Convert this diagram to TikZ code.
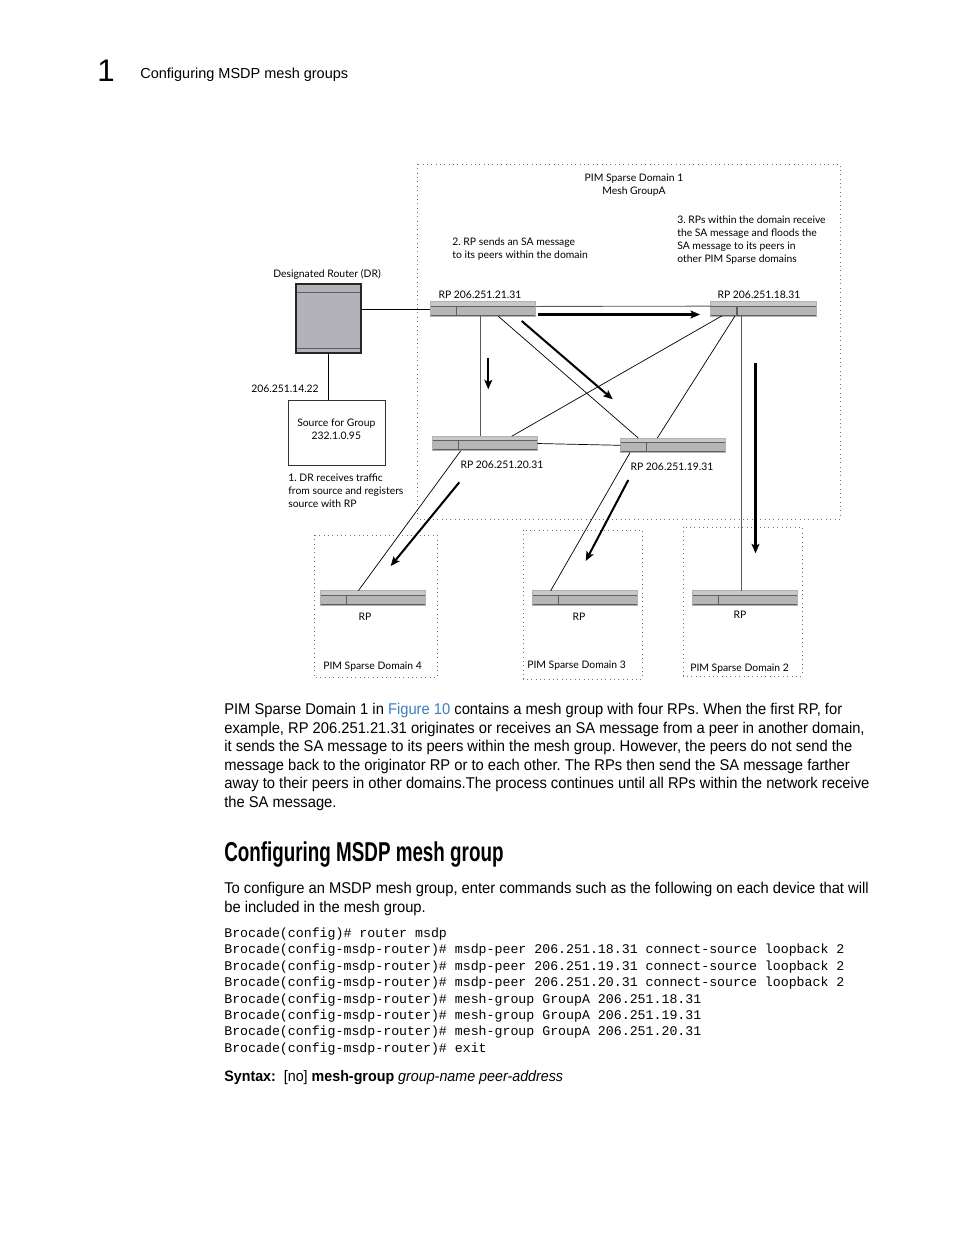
\documentclass[tikz,border=0pt]{standalone}
\usepackage{fontspec}
\setmainfont{Liberation Sans}[FakeStretch=0.945]
\newfontfamily\dgfont{Lato}
\newfontfamily\hdrfont{Liberation Sans}
\newfontfamily\headfont{Liberation Sans}[FakeStretch=0.69]
\setmonofont{Liberation Mono}
\usetikzlibrary{arrows.meta,calc}
\definecolor{linkblue}{RGB}{60,125,195}
\definecolor{barfill}{RGB}{182,182,184}
\definecolor{bartop}{RGB}{200,200,202}
\definecolor{barline}{RGB}{95,95,98}
\definecolor{drfill}{RGB}{178,178,184}
\newdimen\pxu \pxu=0.6415pt
\frenchspacing
\tikzset{
  rpbar/.style={draw=black!30, line width=0.4pt, fill=barfill, minimum width=67.4pt, minimum height=9.3pt, inner sep=0pt, outer sep=0pt,
    path picture={
      \fill[bartop] (path picture bounding box.north west) rectangle ([yshift=-3pt]path picture bounding box.north east);
      \draw[barline, line width=0.6pt] ([yshift=-3pt]path picture bounding box.north west) -- ([yshift=-3pt]path picture bounding box.north east);
      \draw[barline, line width=0.8pt] ([yshift=0.5pt]path picture bounding box.south west) -- ([yshift=0.5pt]path picture bounding box.south east);
      \draw[barline, line width=0.7pt] ($(path picture bounding box.north west)!0.25!(path picture bounding box.north east)+(0,-3pt)$) -- ($(path picture bounding box.south west)!0.25!(path picture bounding box.south east)$);
    }},
  drbox/.style={draw=black!85, line width=1.1pt, fill=drfill, minimum width=41.7pt, minimum height=44.3pt, inner sep=0pt, outer sep=0pt,
    path picture={
      \draw[barline, line width=0.6pt] ([yshift=-5.6pt]path picture bounding box.north west) -- ([yshift=-5.6pt]path picture bounding box.north east);
      \draw[barline, line width=0.6pt] ([yshift=3.2pt]path picture bounding box.south west) -- ([yshift=3.2pt]path picture bounding box.south east);
    }},
  srcbox/.style={draw=black!80, line width=0.5pt, minimum width=62pt, minimum height=41.7pt, inner sep=0pt},
  dg/.style={font=\dgfont\fontsize{6.65}{8.4}\selectfont, inner sep=0pt},
  link/.style={draw=black, line width=0.45pt},
  glink/.style={draw=black!65, line width=0.55pt},
  bigarrow/.style={draw=black, line width=1.3pt, -{Stealth[length=6pt,width=5pt,inset=1.2pt]}},
  dombox/.style={draw=black!55, line width=0.6pt, dash pattern=on 0.6pt off 2.2pt},
  body/.style={anchor=base west, inner sep=0pt, font=\fontsize{10}{12}\selectfont},
  code/.style={anchor=base west, inner sep=0pt, font=\ttfamily\fontsize{8.5}{10}\selectfont},
}
\begin{document}
\begin{tikzpicture}[x=0.6415pt,y=-0.6415pt]
\useasboundingbox[fill=white] (0,0) rectangle (954,1235);

% header
\node[anchor=base west, inner sep=0pt, font=\hdrfont\fontsize{20}{20}\selectfont] (chap) at (97,81) {1};
\node[anchor=base west, inner sep=0pt, font=\hdrfont\fontsize{9.3}{11}\selectfont] (hdr) at (140,78.5) {Configuring MSDP mesh groups};

% domain boxes
\draw[dombox] (417,164) rectangle (840,519);
\draw[dombox] (314,535) rectangle (437,677);
\draw[dombox] (523,530) rectangle (642,679);
\draw[dombox] (683,527) rectangle (802,676);

% devices
\node[drbox] (dr) at (328.5,318.5) {};
\node[rpbar] (rp21) at (483,309) {};
\node[rpbar] (rp18) at (763.3,308.7) {};
\node[rpbar] (rp20) at (484.8,443.5) {};
\node[rpbar] (rp19) at (672.8,445.3) {};
\node[rpbar] (rp4) at (372.7,598) {};
\node[rpbar] (rp3) at (585,598) {};
\node[rpbar] (rp2) at (744.5,597.8) {};
\node[srcbox] (src) at (336.7,432.5) {};
\node[dg, align=center] (srctxt) at (336.3,429.5) {Source for Group\\232.1.0.95};

% connectors
\draw[link] (rp21.west -| dr.east) -- (rp21.west);
\draw[link] (dr.south) -- (dr.south |- src.north);
\draw[glink] ([yshift=-3pt]rp21.north east) -- ([yshift=-3pt]rp18.north west);
\draw[glink] ([xshift=-3\pxu]rp21.south) -- ([xshift=-4.8\pxu]rp20.north);
\draw[link] ([xshift=15.3\pxu]rp21.south) -- ([xshift=-34.5\pxu]rp19.north);
\draw[link] ([xshift=-41.6\pxu]rp18.south) -- ([xshift=26.9\pxu]rp20.north);
\draw[link] ([xshift=-28.3\pxu]rp18.south) -- ([xshift=-15.5\pxu]rp19.north);
\draw[glink] ([xshift=-22.3\pxu]rp18.south) -- ([xshift=-3.5\pxu]rp2.north);
\draw[link] (rp20.east) -- (rp19.west);
\draw[link] ([xshift=-24.1\pxu]rp20.south) -- ([xshift=-14.4\pxu]rp4.north);
\draw[link] ([xshift=-42.8\pxu]rp19.south) -- ([xshift=-34.3\pxu]rp3.north);

% message arrows
\coordinate (a1s) at (538,314.5); \coordinate (a1e) at (700,314.5);
\coordinate (a2s) at (521.7,321); \coordinate (a2e) at (612.7,399.3);
\coordinate (a3s) at (488.3,358.3); \coordinate (a3e) at (488.3,389.3);
\coordinate (a4s) at (755.5,362.7); \coordinate (a4e) at (755.5,553.3);
\coordinate (a5s) at (459.3,482.3); \coordinate (a5e) at (390.7,566);
\coordinate (a6s) at (628.3,480); \coordinate (a6e) at (585.7,561);
\draw[bigarrow] (a1s) -- (a1e);
\draw[bigarrow] (a2s) -- (a2e);
\draw[bigarrow] (a3s) -- (a3e);
\draw[bigarrow] (a4s) -- (a4e);
\draw[bigarrow] (a5s) -- (a5e);
\draw[bigarrow] (a6s) -- (a6e);

% diagram labels
\node[dg, align=center] (d1lbl) at (634,185) {PIM Sparse Domain 1\\Mesh GroupA};
\node[dg, align=left, anchor=west] (step2) at (452,249) {2. RP sends an SA message\\to its peers within the domain};
\node[dg, align=left, anchor=west] (step3) at (677,240) {3. RPs within the domain receive\\the SA message and floods the\\SA message to its peers in\\other PIM Sparse domains};
\node[dg] (drlbl) at (327,274.5) {Designated Router (DR)};
\node[dg] (l21) at (480,294.5) {RP 206.251.21.31};
\node[dg] (l18) at (759,294.5) {RP 206.251.18.31};
\node[dg] (l20) at (502,464.5) {RP 206.251.20.31};
\node[dg] (l19) at (672,466.5) {RP 206.251.19.31};
\node[dg] (srcip) at (285,388.5) {206.251.14.22};
\node[dg, align=left, anchor=west] (step1) at (288,490.5) {1. DR receives traffic\\from source and registers\\source with RP};
\node[dg] (l4) at (365,616.5) {RP};
\node[dg] (l3) at (579,616.5) {RP};
\node[dg] (l2) at (740,614.5) {RP};
\node[dg, anchor=west] (d4) at (323,666.5) {PIM Sparse Domain 4};
\node[dg, anchor=west] (d3) at (527,665.5) {PIM Sparse Domain 3};
\node[dg, anchor=west] (d2) at (690,668.5) {PIM Sparse Domain 2};

% body text
\node[body] (p1) at (224,714) {PIM Sparse Domain 1 in \textcolor{linkblue}{Figure 10} contains a mesh group with four RPs. When the first RP, for};
\node[body] (p2) at (224,733) {example, RP 206.251.21.31 originates or receives an SA message from a peer in another domain,};
\node[body] (p3) at (224,751) {it sends the SA message to its peers within the mesh group. However, the peers do not send the};
\node[body] (p4) at (224,770) {message back to the originator RP or to each other. The RPs then send the SA message farther};
\node[body] (p5) at (224,788) {away to their peers in other domains.The process continues until all RPs within the network receive};
\node[body] (p6) at (224,807) {the SA message.};

\node[anchor=base west, inner sep=0pt, font=\headfont\bfseries\fontsize{17.5}{20}\selectfont] (h2) at (224,861) {Configuring MSDP mesh group};

\node[body] (q1) at (224,893) {To configure an MSDP mesh group, enter commands such as the following on each device that will};
\node[body] (q2) at (224,912) {be included in the mesh group.};

\node[code] (c1) at (224,937.5) {Brocade(config)\# router msdp};
\node[code] (c2) at (224,953.9) {Brocade(config-msdp-router)\# msdp-peer 206.251.18.31 connect-source loopback 2};
\node[code] (c3) at (224,970.3) {Brocade(config-msdp-router)\# msdp-peer 206.251.19.31 connect-source loopback 2};
\node[code] (c4) at (224,986.7) {Brocade(config-msdp-router)\# msdp-peer 206.251.20.31 connect-source loopback 2};
\node[code] (c5) at (224,1003.1) {Brocade(config-msdp-router)\# mesh-group GroupA 206.251.18.31};
\node[code] (c6) at (224,1019.5) {Brocade(config-msdp-router)\# mesh-group GroupA 206.251.19.31};
\node[code] (c7) at (224,1035.9) {Brocade(config-msdp-router)\# mesh-group GroupA 206.251.20.31};
\node[code] (c8) at (224,1052.3) {Brocade(config-msdp-router)\# exit};

\node[body, font=\fontsize{9.7}{12}\selectfont] (syn) at (224,1081) {\textbf{Syntax:}\ \ [no] \textbf{mesh-group} \textit{group-name peer-address}};
\end{tikzpicture}
\end{document}
